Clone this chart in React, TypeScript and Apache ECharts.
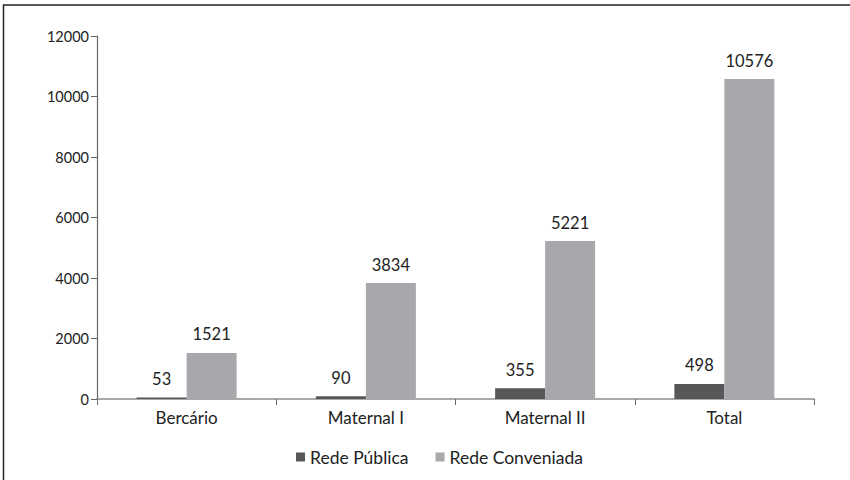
import React, { useEffect, useRef } from "react";
import * as echarts from "echarts";

const categories = ["Bercário", "Maternal I", "Maternal II", "Total"];
const redePublica = [53, 90, 355, 498];
const redeConveniada = [1521, 3834, 5221, 10576];
const seriesNames = ["Rede Pública", "Rede Conveniada"];

const FONT = "Lato, 'Open Sans', sans-serif";

export default function App() {
  const ref = useRef<HTMLDivElement>(null);

  useEffect(() => {
    document.body.style.margin = "0";
    const chart = echarts.init(ref.current!, null, { renderer: "svg" });
    const labelStyle = {
      show: true,
      position: "top" as const,
      distance: 10,
      color: "#222",
      fontSize: 16.5,
      fontFamily: FONT,
    };
    chart.setOption({
      animation: false,
      backgroundColor: "#fff",
      textStyle: { fontFamily: FONT },
      graphic: [
        {
          type: "rect",
          shape: { x: 3.5, y: 5, width: 900, height: 520 },
          style: { fill: "none", stroke: "#222", lineWidth: 1.5 },
          silent: true,
          z: -1,
        },
      ],
      grid: { left: 97, right: 36, top: 36, bottom: 81, containLabel: false },
      legend: {
        bottom: 9,
        left: 291,
        itemWidth: 9,
        itemHeight: 9,
        itemGap: 27,
        icon: "rect",
        textStyle: { fontSize: 17.5, color: "#222", fontFamily: FONT },
        data: seriesNames,
      },
      xAxis: {
        type: "category",
        data: categories,
        axisLine: { lineStyle: { color: "#8c8c8c", width: 1.5 } },
        axisTick: { show: true, length: 6, lineStyle: { color: "#666" } },
        axisLabel: { fontSize: 17, color: "#222", margin: 10, fontFamily: FONT },
      },
      yAxis: {
        type: "value",
        min: 0,
        max: 12000,
        interval: 2000,
        axisLine: { show: true, lineStyle: { color: "#666", width: 1.2 } },
        axisTick: { show: true, length: 6, lineStyle: { color: "#666" } },
        splitLine: { show: false },
        axisLabel: {
          fontSize: 14.5,
          color: "#222",
          margin: 8,
          fontFamily: FONT,
          formatter: (v: number) => String(v),
        },
      },
      series: [
        {
          name: seriesNames[0],
          type: "bar",
          data: redePublica,
          barWidth: 50,
          barGap: "0%",
          itemStyle: { color: "#575759" },
          label: labelStyle,
        },
        {
          name: seriesNames[1],
          type: "bar",
          data: redeConveniada,
          barWidth: 50,
          itemStyle: { color: "#a7a8ab" },
          label: labelStyle,
        },
      ],
    });
    return () => chart.dispose();
  }, []);

  return <div ref={ref} style={{ width: 850, height: 480 }} />;
}
